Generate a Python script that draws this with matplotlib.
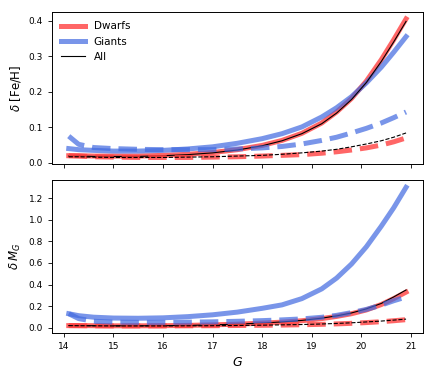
import numpy as np
import matplotlib
matplotlib.use('Agg')
import matplotlib.pyplot as plt

# magnitudes G
G = [14.1, 14.3, 14.6, 15.0, 15.5, 16.0, 16.5, 17.0, 17.5, 18.0, 18.4, 18.8, 19.2, 19.5, 19.8, 20.1, 20.4, 20.65, 20.9]

# [Fe/H] errors (solid / dashed)
feh_dwarf = [0.020, 0.020, 0.019, 0.019, 0.019, 0.021, 0.024, 0.029, 0.037, 0.049, 0.063, 0.083, 0.112, 0.143, 0.181, 0.230, 0.290, 0.346, 0.405]
feh_giant = [0.040, 0.037, 0.035, 0.033, 0.033, 0.035, 0.039, 0.045, 0.055, 0.068, 0.082, 0.101, 0.129, 0.155, 0.186, 0.225, 0.269, 0.311, 0.355]
feh_all = [0.019, 0.019, 0.018, 0.018, 0.018, 0.020, 0.023, 0.028, 0.036, 0.048, 0.062, 0.082, 0.110, 0.140, 0.178, 0.226, 0.285, 0.340, 0.398]
feh_dwarf_d = [0.020, 0.019, 0.017, 0.016, 0.015, 0.015, 0.015, 0.016, 0.017, 0.019, 0.021, 0.023, 0.027, 0.031, 0.036, 0.042, 0.050, 0.059, 0.070]
feh_giant_d = [0.075, 0.052, 0.043, 0.040, 0.038, 0.037, 0.037, 0.037, 0.039, 0.042, 0.046, 0.053, 0.063, 0.072, 0.084, 0.097, 0.112, 0.127, 0.143]
feh_all_d = [0.017, 0.017, 0.016, 0.015, 0.015, 0.015, 0.016, 0.017, 0.019, 0.021, 0.024, 0.028, 0.033, 0.038, 0.045, 0.053, 0.062, 0.072, 0.084]

# M_G errors
mg_dwarf = [0.020, 0.020, 0.019, 0.018, 0.018, 0.019, 0.022, 0.027, 0.033, 0.043, 0.052, 0.065, 0.085, 0.105, 0.130, 0.165, 0.215, 0.270, 0.330]
mg_giant = [0.130, 0.112, 0.098, 0.090, 0.088, 0.092, 0.103, 0.120, 0.145, 0.180, 0.212, 0.270, 0.360, 0.460, 0.590, 0.750, 0.940, 1.110, 1.300]
mg_all = [0.020, 0.020, 0.019, 0.018, 0.018, 0.019, 0.022, 0.027, 0.034, 0.044, 0.054, 0.068, 0.089, 0.110, 0.137, 0.175, 0.225, 0.285, 0.350]
mg_dwarf_d = [0.020, 0.019, 0.018, 0.017, 0.017, 0.017, 0.018, 0.019, 0.021, 0.023, 0.025, 0.028, 0.032, 0.036, 0.041, 0.048, 0.056, 0.065, 0.075]
mg_giant_d = [0.130, 0.085, 0.060, 0.052, 0.050, 0.050, 0.052, 0.055, 0.060, 0.066, 0.073, 0.082, 0.097, 0.115, 0.140, 0.170, 0.210, 0.250, 0.285]
mg_all_d = [0.020, 0.019, 0.018, 0.017, 0.017, 0.017, 0.018, 0.019, 0.021, 0.024, 0.027, 0.030, 0.035, 0.040, 0.046, 0.054, 0.062, 0.071, 0.080]

red = (1.0, 0.25, 0.25, 0.8)
blue = (0.25, 0.41, 0.88, 0.7)
lw = 3.6

fig, (ax1, ax2) = plt.subplots(2, 1, figsize=(4.36, 3.74), dpi=100, sharex=True)
fig.subplots_adjust(left=0.119, right=0.970, top=0.968, bottom=0.110, hspace=0.105)

for ax, d, g, a, dd, gd, ad in [(ax1, feh_dwarf, feh_giant, feh_all, feh_dwarf_d, feh_giant_d, feh_all_d),
                                (ax2, mg_dwarf, mg_giant, mg_all, mg_dwarf_d, mg_giant_d, mg_all_d)]:
    ax.plot(G, d, color=red, lw=lw, label='Dwarfs')
    ax.plot(G, g, color=blue, lw=lw, label='Giants')
    ax.plot(G, a, color='k', lw=0.8, label='All')
    ax.plot(G, dd, color=red, lw=lw, ls='--')
    ax.plot(G, gd, color=blue, lw=lw, ls='--')
    ax.plot(G, ad, color='k', lw=0.8, ls='--')
    ax.tick_params(labelsize=6.5, length=3, width=0.6)
    for s in ax.spines.values():
        s.set_linewidth(0.7)

ax1.set_ylabel(r'$\delta$ [Fe/H]', fontsize=8.5)
ax2.set_ylabel(r'$\delta\, M_G$', fontsize=8.5)
ax2.set_xlabel(r'$G$', fontsize=9)
ax1.set_yticks([0.0, 0.1, 0.2, 0.3, 0.4])
ax2.set_yticks([0.0, 0.2, 0.4, 0.6, 0.8, 1.0, 1.2])
ax1.legend(loc='upper left', fontsize=7.5, frameon=False, handlelength=2.3)

plt.savefig('out.png', dpi=100)
